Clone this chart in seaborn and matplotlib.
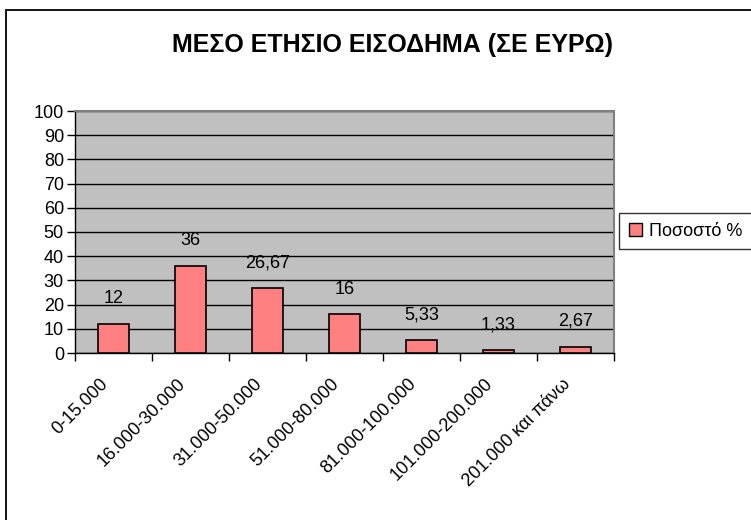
import numpy as np
import pandas as pd
import matplotlib
matplotlib.use("Agg")
import matplotlib.pyplot as plt
import matplotlib.transforms as mtransforms
from matplotlib.patches import Patch, Rectangle
import seaborn as sns

# ===================================
# data
# ===================================
categories = ['0-15.000', '16.000-30.000', '31.000-50.000', '51.000-80.000',
              '81.000-100.000', '101.000-200.000', '201.000 και πάνω']
values = [12, 36, 26.67, 16, 5.33, 1.33, 2.67]
value_labels = ['12', '36', '26,67', '16', '5,33', '1,33', '2,67']
series_name = 'Ποσοστό %'
title = 'ΜΕΣΟ ΕΤΗΣΙΟ ΕΙΣΟΔΗΜΑ (ΣΕ ΕΥΡΩ)'
y_ticks = list(range(0, 101, 10))

df = pd.DataFrame({'cat': categories, 'val': values})

# ===================================
# style
# ===================================
sns.set_style('white')
plt.rcParams['font.family'] = ['Liberation Sans', 'DejaVu Sans']
plt.rcParams['text.color'] = 'black'
plt.rcParams['xtick.color'] = 'black'
plt.rcParams['ytick.color'] = 'black'
plt.rcParams['xtick.labelcolor'] = 'black'
plt.rcParams['ytick.labelcolor'] = 'black'

fig = plt.figure(figsize=(7.51, 5.2), dpi=100)
ax = fig.add_axes([75 / 751, 1 - 353 / 520, (614 - 75) / 751, (353 - 111) / 520])
ax.set_facecolor('#C0C0C0')

sns.barplot(data=df, x='cat', y='val', color='#FF8080', edgecolor='black',
            linewidth=1.2, width=0.39, saturation=1, ax=ax, zorder=3)

ax.set_xlim(-0.5, len(categories) - 0.5)
ax.set_ylim(0, 100)
ax.set_yticks(y_ticks)
ax.set_xlabel('')
ax.set_ylabel('')

# grid
ax.yaxis.grid(True, color='black', linewidth=1)
ax.set_axisbelow(True)

# ticks
ax.tick_params(axis='y', direction='out', length=6, width=1, color='black',
               labelsize=13, pad=2, left=True)
ax.set_xticks(range(len(categories)))
ax.set_xticklabels(categories, rotation=45, ha='right', rotation_mode='anchor', fontsize=13)
ax.tick_params(axis='x', which='major', length=0, pad=16)
shift = mtransforms.ScaledTranslation(-14 / 100, 0, fig.dpi_scale_trans)
for lab in ax.get_xticklabels():
    lab.set_transform(lab.get_transform() + shift)
ax.set_xticks(np.arange(-0.5, len(categories), 1), minor=True)
ax.tick_params(axis='x', which='minor', direction='out', length=6, width=1,
               color='black', bottom=True)

for side in ['top', 'right']:
    ax.spines[side].set_color('#808080')
    ax.spines[side].set_linewidth(1.5)
for side in ['left', 'bottom']:
    ax.spines[side].set_color('black')
    ax.spines[side].set_linewidth(1)

# value labels
for i, (v, lab) in enumerate(zip(values, value_labels)):
    ax.annotate(lab, (i, v), xytext=(0, 12), textcoords='offset points',
                ha='center', va='bottom', fontsize=13, color='black')

# title
fig.text(392 / 751, 1 - 45 / 520, title, ha='center', va='center',
         fontsize=18, fontweight='bold', color='black')

# legend
handle = Patch(facecolor='#FF8080', edgecolor='black', linewidth=1)
leg = fig.legend(handles=[handle], labels=[series_name], loc='center left',
                 bbox_to_anchor=(619 / 751, 1 - 231 / 520), fontsize=13,
                 frameon=True, fancybox=False, edgecolor='black',
                 handlelength=0.7, handleheight=0.7, handletextpad=0.4,
                 borderpad=0.55, borderaxespad=0)
leg.get_frame().set_linewidth(1)

# outer chart border
fig.patches.append(Rectangle((6 / 751, -0.2), 1.2, 1.2 - 10 / 520,
                             transform=fig.transFigure, fill=False,
                             edgecolor='black', linewidth=1.3))

fig.savefig('out.png', dpi=100)
